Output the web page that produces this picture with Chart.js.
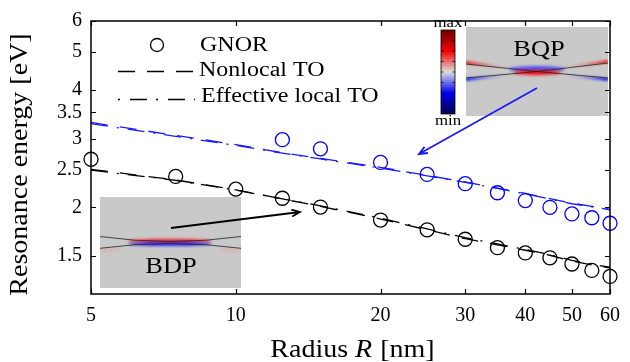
<!DOCTYPE html>
<html>
<head>
<meta charset="utf-8">
<script src="https://cdn.jsdelivr.net/npm/chart.js@4.4.1/dist/chart.umd.min.js"></script>
<style>
  html, body { margin: 0; padding: 0; background: #fff; }
  #wrap { width: 630px; height: 362px; }
</style>
</head>
<body>
<div id="wrap"><canvas id="grafica" width="630" height="362"></canvas></div>
<script>
// ---- data ----
const radiusGnor = [5, 7.5, 10, 12.5, 15, 20, 25, 30, 35, 40, 45, 50, 55, 60];
const bdpGnor = [2.656, 2.400, 2.227, 2.110, 2.003, 1.856, 1.752, 1.657, 1.577, 1.529, 1.485, 1.432, 1.379, 1.331];
const radiusBqp = [12.5, 15, 20, 25, 30, 35, 40, 45, 50, 55, 60];
const bqpGnor = [2.980, 2.824, 2.606, 2.428, 2.300, 2.180, 2.082, 2.000, 1.924, 1.881, 1.821];

const radiusTO = [5, 7.5, 10, 12.5, 15, 20, 25, 30, 35, 40, 45, 50, 55, 60];
const bdpNonlocal = [2.503, 2.350, 2.218, 2.101, 2.012, 1.867, 1.752, 1.663, 1.604, 1.553, 1.508, 1.457, 1.424, 1.400];
const bdpLocal = [2.490, 2.345, 2.215, 2.103, 2.018, 1.876, 1.762, 1.672, 1.612, 1.560, 1.514, 1.464, 1.430, 1.405];
const bqpNonlocal = [3.299, 3.056, 2.896, 2.760, 2.670, 2.532, 2.414, 2.323, 2.240, 2.172, 2.106, 2.050, 2.012, 1.977];
const bqpLocal = [3.275, 3.040, 2.882, 2.752, 2.660, 2.522, 2.408, 2.318, 2.236, 2.166, 2.100, 2.043, 2.006, 1.972];

const xTicks = [5, 10, 20, 30, 40, 50, 60];
const yTicks = [1.5, 2, 2.5, 3, 3.5, 4, 5, 6];

const SERIF = "'Liberation Serif', 'DejaVu Serif', serif";
const DASH = [17, 12];
const DASHDOT = [17, 9, 2, 9];

const pts = (xs, ys) => xs.map((x, i) => ({ x: x, y: ys[i] }));

const circles = (label, xs, ys, color) => ({
  label: label, data: pts(xs, ys), showLine: false,
  pointStyle: 'circle', pointRadius: 7, pointBorderWidth: 1.3,
  borderColor: color, backgroundColor: 'rgba(0,0,0,0)', clip: false
});
const curve = (label, xs, ys, color, dash) => ({
  label: label, data: pts(xs, ys), showLine: true, pointRadius: 0,
  borderColor: color, borderWidth: 1.3, borderDash: dash, clip: false
});

// texto estirado un poco en horizontal (como en la figura original)
function texto(ctx, str, x, y, size, align, sx, italic) {
  ctx.save();
  ctx.font = (italic ? 'italic ' : '') + size + 'px ' + SERIF;
  ctx.textBaseline = 'alphabetic';
  const w = ctx.measureText(str).width * sx;
  let x0 = x;
  if (align === 'center') x0 = x - w / 2;
  if (align === 'right') x0 = x - w;
  ctx.translate(x0, y);
  ctx.scale(sx, 1);
  ctx.textAlign = 'left';
  ctx.fillStyle = '#000';
  ctx.fillText(str, 0, 0);
  ctx.restore();
  return w;
}

function flecha(ctx, x1, y1, x2, y2, color) {
  const a = Math.atan2(y2 - y1, x2 - x1);
  ctx.save();
  ctx.strokeStyle = color;
  ctx.lineWidth = 1.8;
  ctx.beginPath();
  ctx.moveTo(x1, y1);
  ctx.lineTo(x2, y2);
  ctx.moveTo(x2 - 9 * Math.cos(a - 0.4), y2 - 9 * Math.sin(a - 0.4));
  ctx.lineTo(x2, y2);
  ctx.lineTo(x2 - 9 * Math.cos(a + 0.4), y2 - 9 * Math.sin(a + 0.4));
  ctx.stroke();
  ctx.restore();
}

function glow(ctx, cx, cy, rx, ry, color) {
  ctx.save();
  ctx.filter = 'blur(1.5px)';
  ctx.fillStyle = color;
  ctx.beginPath();
  ctx.ellipse(cx, cy, rx, ry, 0, 0, Math.PI * 2);
  ctx.fill();
  ctx.restore();
}

function edgeGlow(ctx, x1, y1, x2, y2, color) {
  const g = ctx.createLinearGradient(x1, y1, x2, y2);
  g.addColorStop(0, color);
  g.addColorStop(1, 'rgba(200,200,200,0)');
  ctx.save();
  ctx.filter = 'blur(1px)';
  ctx.strokeStyle = g;
  ctx.lineWidth = 3;
  ctx.beginPath();
  ctx.moveTo(x1, y1);
  ctx.lineTo(x2, y2);
  ctx.stroke();
  ctx.restore();
}

const marco = {
  id: 'marco',
  afterDatasetsDraw(chart) {
    const ctx = chart.ctx;
    const a = chart.chartArea;
    const sx = chart.scales.x, sy = chart.scales.y;

    // ---- inset BQP ----
    ctx.save();
    ctx.beginPath(); ctx.rect(466, 27, 142, 89); ctx.clip();
    ctx.fillStyle = '#c9c9c9';
    ctx.fillRect(466, 27, 142, 89);
    edgeGlow(ctx, 466, 62.5, 515, 68.5, 'rgba(255,0,0,0.9)');
    edgeGlow(ctx, 608, 61.5, 558, 68.5, 'rgba(255,0,0,0.9)');
    edgeGlow(ctx, 466, 79.5, 515, 74.5, 'rgba(0,0,255,0.9)');
    edgeGlow(ctx, 608, 79.5, 558, 74.5, 'rgba(0,0,255,0.9)');
    glow(ctx, 537, 69, 28, 3, 'rgba(40,40,255,0.75)');
    glow(ctx, 537, 72.5, 24, 2.5, 'rgba(255,0,0,0.95)');
    ctx.strokeStyle = '#222';
    ctx.lineWidth = 0.8;
    ctx.beginPath();
    ctx.moveTo(466, 64); ctx.lineTo(537, 71.5); ctx.lineTo(608, 63);
    ctx.moveTo(466, 78); ctx.lineTo(537, 71.5); ctx.lineTo(608, 78);
    ctx.stroke();
    ctx.restore();
    texto(ctx, 'BQP', 539, 56, 23, 'center', 1.15);

    // barra de color
    const cb = ctx.createLinearGradient(0, 30, 0, 114);
    cb.addColorStop(0, '#6a0000');
    cb.addColorStop(0.25, '#f20000');
    cb.addColorStop(0.5, '#dcdcdc');
    cb.addColorStop(0.75, '#0000f2');
    cb.addColorStop(1, '#00004a');
    ctx.save();
    ctx.fillStyle = cb;
    ctx.fillRect(441, 30, 14, 84);
    ctx.strokeStyle = '#000';
    ctx.lineWidth = 0.8;
    ctx.strokeRect(441, 30, 14, 84);
    ctx.beginPath();
    for (let i = 1; i < 8; i++) {
      const yy = 30 + i * 84 / 8;
      ctx.moveTo(455, yy); ctx.lineTo(452.5, yy);
      ctx.moveTo(441, yy); ctx.lineTo(443.5, yy);
    }
    ctx.stroke();
    ctx.restore();
    texto(ctx, 'max', 448, 27, 14, 'center', 1.2);
    texto(ctx, 'min', 448, 125, 14, 'center', 1.2);

    // ---- inset BDP ----
    ctx.save();
    ctx.beginPath(); ctx.rect(100, 197, 141, 91); ctx.clip();
    ctx.fillStyle = '#c9c9c9';
    ctx.fillRect(100, 197, 141, 91);
    glow(ctx, 170, 241, 42, 1.8, 'rgba(255,0,0,0.95)');
    glow(ctx, 170, 244, 42, 1.8, 'rgba(0,0,255,0.9)');
    glow(ctx, 108, 250, 14, 1.5, 'rgba(255,120,120,0.35)');
    glow(ctx, 233, 250, 14, 1.5, 'rgba(255,120,120,0.35)');
    ctx.strokeStyle = '#222';
    ctx.lineWidth = 0.8;
    ctx.beginPath();
    ctx.moveTo(100, 236.5); ctx.quadraticCurveTo(170, 246.5, 241, 236.5);
    ctx.moveTo(100, 248.3); ctx.quadraticCurveTo(170, 238.7, 241, 248.3);
    ctx.stroke();
    ctx.restore();
    texto(ctx, 'BDP', 171, 272.5, 23, 'center', 1.15);

    // ---- marco y marcas hacia dentro ----
    ctx.save();
    ctx.strokeStyle = '#000';
    ctx.lineWidth = 1.5;
    ctx.strokeRect(a.left, a.top, a.right - a.left, a.bottom - a.top);
    ctx.lineWidth = 1.2;
    ctx.beginPath();
    xTicks.forEach(v => {
      const px = Math.round(sx.getPixelForValue(v)) + 0.5;
      ctx.moveTo(px, a.bottom); ctx.lineTo(px, a.bottom - 5);
      ctx.moveTo(px, a.top); ctx.lineTo(px, a.top + 5);
    });
    yTicks.forEach(v => {
      const py = Math.round(sy.getPixelForValue(v)) + 0.5;
      ctx.moveTo(a.left, py); ctx.lineTo(a.left + 5, py);
      ctx.moveTo(a.right, py); ctx.lineTo(a.right - 5, py);
    });
    ctx.stroke();
    ctx.restore();
  },
  afterDraw(chart) {
    const ctx = chart.ctx;

    // flechas
    flecha(ctx, 537, 88, 419, 154, '#1a1aff');
    flecha(ctx, 171, 228, 300, 212, '#000');

    // leyenda (solo las series negras)
    const ds = chart.data.datasets;
    ctx.save();
    ctx.strokeStyle = '#000';
    ctx.lineWidth = 1.3;
    ctx.beginPath();
    ctx.arc(157, 45, 6.5, 0, Math.PI * 2);
    ctx.stroke();
    ctx.setLineDash(ds[2].borderDash);
    ctx.beginPath(); ctx.moveTo(118, 71.5); ctx.lineTo(195, 71.5); ctx.stroke();
    ctx.setLineDash([2, 10, 17, 9]);
    ctx.beginPath(); ctx.moveTo(118, 99.5); ctx.lineTo(195, 99.5); ctx.stroke();
    ctx.restore();
    texto(ctx, ds[0].label, 200, 50.5, 20, 'left', 1.2);
    texto(ctx, ds[2].label, 199, 75.5, 20, 'left', 1.2);
    texto(ctx, ds[4].label, 201, 101.5, 20, 'left', 1.2);

    // titulos de los ejes
    const s = 1.12;
    ctx.save();
    ctx.font = '25px ' + SERIF;
    const w1 = ctx.measureText('Radius ').width * s;
    ctx.font = 'italic 25px ' + SERIF;
    const w2 = ctx.measureText('R').width * s;
    ctx.font = '25px ' + SERIF;
    const w3 = ctx.measureText(' [nm]').width * s;
    ctx.restore();
    let x0 = 352 - (w1 + w2 + w3) / 2;
    texto(ctx, 'Radius ', x0, 357, 25, 'left', s);
    texto(ctx, 'R', x0 + w1, 357, 25, 'left', s, true);
    texto(ctx, ' [nm]', x0 + w1 + w2 + 1, 357, 25, 'left', s);

    ctx.save();
    ctx.translate(27, 164.5);
    ctx.rotate(-Math.PI / 2);
    texto(ctx, 'Resonance energy [eV]', 0, 0, 25, 'center', s);
    ctx.restore();
  }
};

new Chart(document.getElementById('grafica'), {
  type: 'scatter',
  data: {
    datasets: [
      circles('GNOR', radiusGnor, bdpGnor, '#000'),
      circles('GNOR BQP', radiusBqp, bqpGnor, '#0000ff'),
      curve('Nonlocal TO', radiusTO, bdpNonlocal, '#000', DASH),
      curve('Nonlocal TO BQP', radiusTO, bqpNonlocal, '#1a1aff', DASH),
      curve('Effective local TO', radiusTO, bdpLocal, '#000', DASHDOT),
      curve('Effective local TO BQP', radiusTO, bqpLocal, '#1a1aff', DASHDOT)
    ]
  },
  options: {
    responsive: false,
    animation: false,
    layout: { padding: { top: 15, right: 10, left: 0, bottom: 0 } },
    plugins: { legend: { display: false }, tooltip: { enabled: false } },
    scales: {
      x: {
        type: 'logarithmic', min: 5, max: 60,
        afterBuildTicks: s => { s.ticks = xTicks.map(v => ({ value: v })); },
        afterFit: s => { s.height = 68; },
        grid: { display: false, drawTicks: false },
        border: { display: false },
        ticks: {
          autoSkip: false, maxRotation: 0, padding: 10, color: '#000',
          font: { family: SERIF, size: 20 },
          callback: v => String(v)
        }
      },
      y: {
        type: 'logarithmic', min: 1.2, max: 6,
        afterBuildTicks: s => { s.ticks = yTicks.map(v => ({ value: v })); },
        afterFit: s => { s.width = 91; },
        grid: { display: false, drawTicks: false },
        border: { display: false },
        ticks: {
          autoSkip: false, padding: 9, color: '#000',
          font: { family: SERIF, size: 20 },
          callback: v => String(v)
        }
      }
    }
  },
  plugins: [marco]
});
</script>
</body>
</html>
